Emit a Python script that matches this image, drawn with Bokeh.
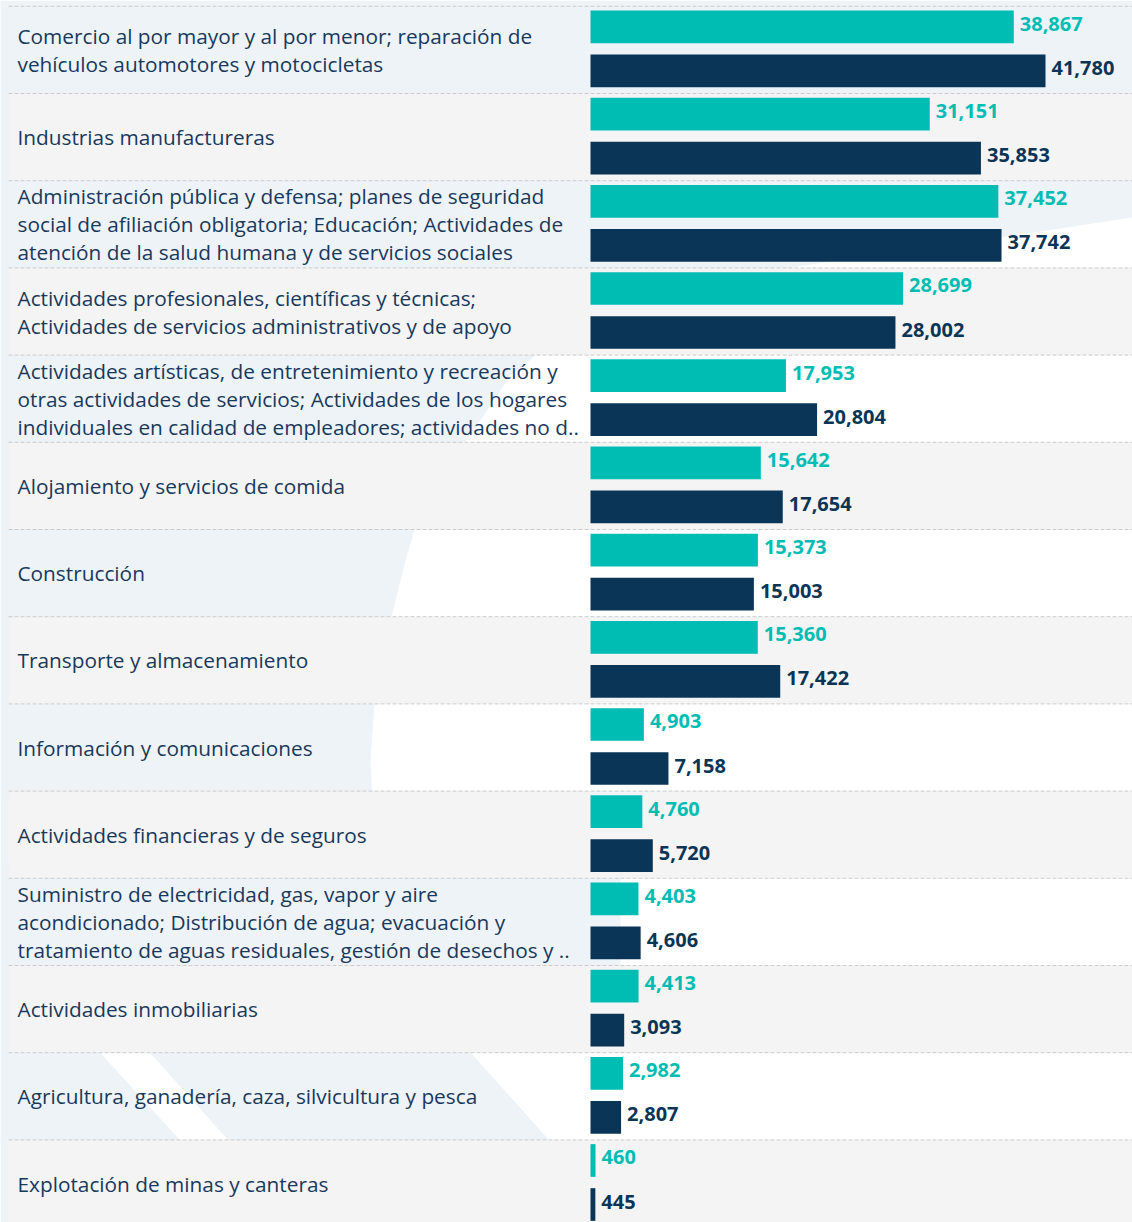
from bokeh.plotting import figure
from bokeh.models import Range1d, ColumnDataSource
from bokeh.core.properties import value
from bokeh.embed import file_html
from bokeh.resources import INLINE

# ---------------- data ----------------
categories = [
    "Comercio al por mayor y al por menor; reparación de\nvehículos automotores y motocicletas",
    "Industrias manufactureras",
    "Administración pública y defensa; planes de seguridad\nsocial de afiliación obligatoria; Educación; Actividades de\natención de la salud humana y de servicios sociales",
    "Actividades profesionales, científicas y técnicas;\nActividades de servicios administrativos y de apoyo",
    "Actividades artísticas, de entretenimiento y recreación y\notras actividades de servicios; Actividades de los hogares\nindividuales en calidad de empleadores; actividades no d..",
    "Alojamiento y servicios de comida",
    "Construcción",
    "Transporte y almacenamiento",
    "Información y comunicaciones",
    "Actividades financieras y de seguros",
    "Suministro de electricidad, gas, vapor y aire\nacondicionado; Distribución de agua; evacuación y\ntratamiento de aguas residuales, gestión de desechos y ..",
    "Actividades inmobiliarias",
    "Agricultura, ganadería, caza, silvicultura y pesca",
    "Explotación de minas y canteras",
]
serie_teal = [38867, 31151, 37452, 28699, 17953, 15642, 15373, 15360, 4903, 4760, 4403, 4413, 2982, 460]
serie_navy = [41780, 35853, 37742, 28002, 20804, 17654, 15003, 17422, 7158, 5720, 4606, 3093, 2807, 445]

# ---------------- layout constants ----------------
TEAL = "#00BDB4"
NAVY = "#0B3557"
LABEL_COLOR = "#19395C"
GRAY_BAND = "#F4F4F4"
WATERMARK = "#EEF3F8"
SEP = "#CCCCCC"

W, H = 1132, 1222
BAR_LEFT_PX = 590.0               # bar baseline, px from plot left
SX = 455.0 / 41780.0              # px per unit
BAND_PX = 87.2
Y_TOP = -5.8 / BAND_PX

x_start = -BAR_LEFT_PX / SX
x_end = (W - BAR_LEFT_PX) / SX
y_bottom = Y_TOP + H / BAND_PX

def to_data(xa, ya):
    return x_start + xa / SX, Y_TOP + ya / BAND_PX

n = len(categories)
idx = list(range(n))
band_left = x_start + 8 / SX

p = figure(width=W, height=H, output_backend="svg", toolbar_location=None,
           x_range=Range1d(x_start, x_end), y_range=Range1d(y_bottom, Y_TOP),
           min_border=0, outline_line_color=None,
           background_fill_color="white", border_fill_color="white")
p.xaxis.visible = False
p.yaxis.visible = False
p.grid.visible = False

# ---------------- decorative watermark ----------------
polyA = [(0, 0), (1132, 0), (1132, 217), (1000, 237), (900, 250), (760, 272), (640, 300),
         (560, 335), (510, 375), (480, 420), (445, 470), (420, 510), (405, 560), (390, 620),
         (375, 690), (370, 760), (372, 800), (0, 800)]
polyB = [(0, 860), (620, 860), (620, 975), (401, 975), (549, 1140), (0, 1140)]
polyC = [(0, 0), (8, 0), (8, 1222), (0, 1222)]
stripe = [(93, 1045), (143, 1045), (237, 1150), (189, 1150)]

def conv(poly):
    pts = [to_data(a, b) for a, b in poly]
    return [q[0] for q in pts], [q[1] for q in pts]

xa, ya = conv(polyA)
xb, yb = conv(polyB)
xc, yc = conv(polyC)
xs_, ys_ = conv(stripe)
p.patches([xa, xb], [ya, yb], fill_color=WATERMARK, line_color=None)
p.patch(xs_, ys_, fill_color="white", line_color=None)

# ---------------- alternating bands ----------------
odd = [i for i in idx if i % 2 == 1]
p.quad(left=band_left, right=x_end, top=odd, bottom=[i + 1 for i in odd],
       fill_color=GRAY_BAND, line_color=None)
p.patch(xc, yc, fill_color=WATERMARK, line_color=None)

# dashed separators
seps = list(range(n + 1))
p.segment(x0=[band_left] * len(seps), x1=[x_end] * len(seps), y0=seps, y1=seps,
          line_color=SEP, line_width=1, line_dash="4 2")

# ---------------- bars ----------------
OFF_T, OFF_N, BAR_H = 0.236, 0.741, 0.375
src = ColumnDataSource(dict(
    cat=categories,
    yc=[i + 0.5 for i in idx],
    yt=[i + OFF_T for i in idx],
    yn=[i + OFF_N for i in idx],
    teal=serie_teal,
    navy=serie_navy,
    teal_lbl=[f"{v:,}" for v in serie_teal],
    navy_lbl=[f"{v:,}" for v in serie_navy],
    lx=[x_start + 17 / SX] * n,
))

p.hbar(y="yt", left=0, right="teal", height=BAR_H, fill_color=TEAL, line_color=None, source=src)
p.hbar(y="yn", left=0, right="navy", height=BAR_H, fill_color=NAVY, line_color=None, source=src)

p.text(x="teal", y="yt", text="teal_lbl", x_offset=6, y_offset=-3, text_baseline="middle",
       text_align="left", text_font=value("Open Sans"), text_font_style="bold",
       text_font_size="20px", text_color=TEAL, source=src)
p.text(x="navy", y="yn", text="navy_lbl", x_offset=6, y_offset=-3, text_baseline="middle",
       text_align="left", text_font=value("Open Sans"), text_font_style="bold",
       text_font_size="20px", text_color=NAVY, source=src)

# category labels
p.text(x="lx", y="yc", text="cat", text_baseline="middle", text_align="left",
       text_font=value("Open Sans"), text_font_size="20.8px", text_line_height=1.0,
       text_color=LABEL_COLOR, source=src)

open("out.html", "w").write(file_html(p, INLINE))
